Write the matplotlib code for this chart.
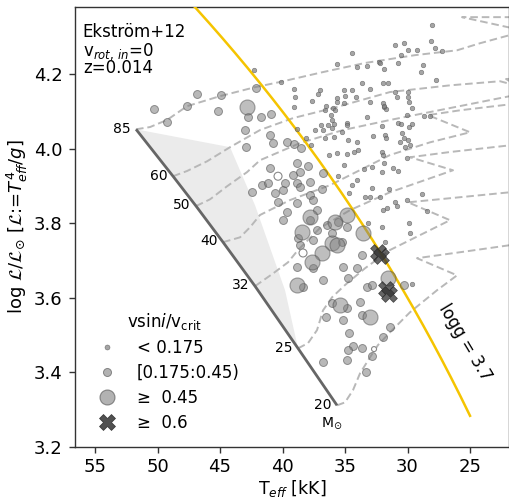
import numpy as np
import matplotlib
matplotlib.use("Agg")
import matplotlib.pyplot as plt
from matplotlib.lines import Line2D

# --- zero-age main sequence (Ekström+12, non-rotating, Z=0.014) ---
zams_mass = [85, 60, 50, 40, 32, 25, 20]
zams_teff = [51.72, 48.76, 46.92, 44.76, 42.20, 38.76, 35.64]
zams_logl = [4.052, 3.926, 3.846, 3.749, 3.631, 3.464, 3.311]

# --- evolutionary tracks (Teff in kK, log spectroscopic luminosity) ---
trk85_teff = [51.72, 50.60, 49.24, 47.64, 45.00, 42.20, 40.20, 36.84, 33.40, 29.40, 26.04, 24.20, 21.80, 20.60, 25.64, 20.20]
trk85_logl = [4.052, 4.058, 4.077, 4.114, 4.141, 4.165, 4.179, 4.205, 4.230, 4.251, 4.264, 4.283, 4.305, 4.316, 4.353, 4.353]

trk60_teff = [48.76, 47.64, 46.04, 44.20, 41.80, 39.16, 35.96, 31.40, 26.60, 22.60, 21.16, 22.12, 20.20]
trk60_logl = [3.926, 3.940, 3.966, 4.004, 4.050, 4.082, 4.109, 4.152, 4.170, 4.181, 4.168, 4.187, 4.189]

trk50_teff = [46.92, 45.80, 44.44, 42.84, 41.80, 38.60, 35.16, 31.40, 26.60, 21.80]
trk50_logl = [3.846, 3.864, 3.899, 3.937, 3.969, 4.015, 4.050, 4.077, 4.109, 4.141]

trk40_teff = [44.76, 43.40, 42.60, 41.80, 39.40, 36.20, 31.40, 28.20, 25.00, 28.36, 25.80, 21.80]
trk40_logl = [3.749, 3.762, 3.789, 3.822, 3.862, 3.902, 3.983, 4.017, 4.044, 4.090, 4.103, 4.119]

trk32_teff = [42.20, 40.84, 39.56, 38.76, 37.00, 34.60, 31.40, 26.36, 29.80, 26.60, 21.80]
trk32_logl = [3.631, 3.663, 3.695, 3.728, 3.787, 3.835, 3.883, 3.942, 3.977, 3.991, 4.009]

trk25_teff = [38.76, 37.96, 37.24, 36.76, 36.04, 35.00, 33.40, 31.40, 29.00, 26.60, 29.96, 26.60, 21.80]
trk25_logl = [3.464, 3.478, 3.513, 3.566, 3.601, 3.634, 3.679, 3.728, 3.768, 3.808, 3.856, 3.867, 3.883]

trk20_teff = [35.64, 35.00, 34.36, 33.80, 33.00, 32.36, 31.40, 29.80, 27.64, 26.04, 29.24, 25.80, 21.80]
trk20_logl = [3.311, 3.319, 3.352, 3.397, 3.440, 3.473, 3.507, 3.561, 3.620, 3.660, 3.706, 3.722, 3.741]

# --- shaded band next to the ZAMS ---
band_teff = [51.72, 44.20, 42.20, 39.80, 38.76]
band_logl = [4.052, 4.004, 3.848, 3.620, 3.464]

# --- iso-gravity line ---
LOGG = 3.7
LOG_SUN = 4 * np.log10(5777.0) - 4.438   # log(Teff_sun^4 / g_sun)
iso_teff = np.linspace(25.0, 50.0, 300)

# --- stars, grouped by vsini/vcrit ---
slow_teff = [28.04, 31.00, 30.28, 29.96, 29.24, 28.12, 27.80, 27.24, 30.52, 30.76, 32.28, 34.44, 35.64, 34.04,
             33.24, 31.88, 28.76, 28.92, 27.72, 31.56, 31.96, 33.64, 31.00, 29.96, 29.96, 29.64, 30.04, 29.64,
             29.88, 30.76, 30.52, 28.68, 28.20, 33.00, 35.08, 34.44, 39.08, 39.00, 39.08, 37.64, 37.00, 37.16,
             35.64, 35.64, 35.00, 35.08, 34.12, 33.00, 31.96, 31.88, 31.72, 30.84, 29.88, 33.24, 36.52, 35.96,
             36.60, 36.12, 36.04, 36.36, 34.84, 35.88, 36.92, 37.40, 36.76, 36.04, 35.88, 36.60, 35.24, 32.04,
             32.76, 31.80, 31.72, 30.44, 30.28, 29.96, 30.20, 30.60, 29.80, 30.04, 32.04, 31.96, 31.88, 32.04,
             31.16, 30.76, 32.84, 33.48, 33.96, 34.28, 34.84, 35.64, 36.28, 35.08, 35.56, 34.44, 34.04, 34.68,
             32.84, 33.00, 32.20, 31.48, 33.40, 31.00, 30.84, 30.04, 31.96, 31.64, 32.04, 33.16, 28.84, 28.44,
             29.88, 29.80, 31.80, 42.28, 38.84, 37.72, 38.12, 34.04, 34.76, 40.12, 29.64, 32.20, 35.80, 34.84,
             31.88]
slow_logl = [4.332, 4.278, 4.283, 4.264, 4.264, 4.289, 4.270, 4.262, 4.251, 4.230, 4.232, 4.256, 4.227, 4.219,
             4.221, 4.214, 4.224, 4.205, 4.184, 4.176, 4.176, 4.176, 4.152, 4.152, 4.138, 4.109, 4.090, 4.066,
             4.058, 4.068, 4.066, 4.087, 4.087, 4.160, 4.157, 4.157, 4.160, 4.138, 4.111, 4.128, 4.157, 4.146,
             4.136, 4.125, 4.141, 4.122, 4.138, 4.125, 4.122, 4.111, 4.106, 4.138, 4.125, 4.085, 4.114, 4.109,
             4.103, 4.090, 4.077, 4.063, 4.068, 4.066, 4.063, 4.050, 4.050, 4.055, 4.031, 4.028, 4.044, 4.060,
             4.034, 4.036, 4.028, 4.042, 4.028, 4.023, 4.004, 4.017, 4.009, 3.975, 3.991, 3.983, 3.961, 3.937,
             3.948, 3.940, 3.950, 3.945, 3.996, 3.991, 3.985, 3.988, 3.983, 3.956, 3.926, 3.902, 3.916, 3.881,
             3.894, 3.870, 3.870, 3.891, 3.870, 3.856, 3.846, 3.862, 3.835, 3.840, 3.789, 3.800, 3.878, 3.832,
             3.800, 3.773, 3.749, 4.211, 4.052, 4.009, 4.028, 4.017, 4.023, 4.179, 3.636, 4.230, 4.103, 4.063,
             4.114]

mid_teff = [50.28, 49.24, 47.64, 46.84, 44.92, 45.16, 42.76, 43.00, 42.92, 42.12, 42.44, 41.72, 40.92, 41.00,
            40.76, 39.64, 39.08, 38.52, 41.00, 39.16, 37.96, 38.84, 36.76, 36.84, 41.64, 41.16, 39.96, 39.80,
            40.60, 38.84, 38.60, 37.80, 37.56, 38.84, 40.36, 39.96, 37.80, 37.24, 38.76, 38.60, 37.56, 36.44,
            35.56, 34.84, 35.24, 38.84, 37.56, 35.16, 34.76, 34.04, 33.24, 38.60, 37.80, 39.64, 37.24, 36.04,
            38.36, 36.76, 33.64, 32.84, 36.04, 34.84, 33.80, 36.52, 35.16, 33.64, 31.40, 31.96, 34.68, 34.36,
            34.76, 33.64, 32.84, 36.76, 34.84, 33.32, 30.28]
mid_logl = [4.106, 4.071, 4.114, 4.146, 4.144, 4.101, 4.085, 4.050, 4.004, 4.162, 3.883, 4.085, 4.093, 4.036,
            4.015, 4.017, 4.012, 4.001, 3.948, 3.929, 3.953, 3.961, 3.934, 3.891, 3.902, 3.907, 3.889, 3.907,
            3.881, 3.907, 3.897, 3.875, 3.862, 3.854, 3.856, 3.808, 3.808, 3.835, 3.760, 3.741, 3.754, 3.795,
            3.803, 3.789, 3.749, 3.682, 3.679, 3.682, 3.652, 3.679, 3.628, 3.937, 3.910, 3.830, 3.781, 3.773,
            3.628, 3.647, 3.714, 3.634, 3.585, 3.572, 3.588, 3.548, 3.540, 3.553, 3.521, 3.494, 3.505, 3.470,
            3.459, 3.464, 3.443, 3.427, 3.432, 3.400, 3.634]

fast_teff = [42.84, 37.80, 38.44, 34.84, 35.80, 33.56, 36.04, 35.64, 36.84, 37.64, 38.84, 35.40, 33.00, 31.56]
fast_logl = [4.111, 3.816, 3.776, 3.822, 3.803, 3.773, 3.746, 3.741, 3.720, 3.695, 3.634, 3.580, 3.548, 3.652]

vfast_teff = [32.36, 32.12, 31.72, 31.48]
vfast_logl = [3.722, 3.711, 3.623, 3.609]

# stars without a vsini estimate (open symbols)
nov_teff = [40.36, 38.36, 32.68]
nov_logl = [3.926, 3.720, 3.462]
nov_size = [33, 33, 13]

leg_labels = ['< 0.175', '[0.175:0.45)', '\u2265  0.45', '\u2265  0.6']

# ------------------------------------------------------------------
plt.rcParams['font.family'] = ['DejaVu Sans']
plt.rcParams['mathtext.fontset'] = 'dejavusans'

fig = plt.figure(figsize=(5.10, 4.98), dpi=100)
ax = fig.add_axes([0.1471, 0.1030, 0.8510, 0.8835])

band_t = band_teff + zams_teff[-2:0:-1]
band_l = band_logl + zams_logl[-2:0:-1]
ax.fill(band_t, band_l, color='#ebebeb', lw=0, zorder=1)

tracks = [(trk85_teff, trk85_logl), (trk60_teff, trk60_logl), (trk50_teff, trk50_logl),
          (trk40_teff, trk40_logl), (trk32_teff, trk32_logl), (trk25_teff, trk25_logl),
          (trk20_teff, trk20_logl)]
for tt, ll in tracks:
    ax.plot(tt, ll, color='#b8b8b8', lw=1.4, ls=(0, (3.9, 2.0)), zorder=2)

ax.plot(zams_teff, zams_logl, color='#666666', lw=2.0, zorder=3, solid_capstyle='butt')

iso_logl = 4 * np.log10(iso_teff * 1e3) - LOGG - LOG_SUN
ax.plot(iso_teff, iso_logl, color='#f5c400', lw=1.8, zorder=3)

face = '#7f7f7f'
edge = '#4d4d4d'
ax.scatter(slow_teff, slow_logl, s=11, c=face, edgecolors=edge, linewidths=0.4, alpha=0.7, zorder=4)
ax.scatter(mid_teff, mid_logl, s=33, c=face, edgecolors=edge, linewidths=0.7, alpha=0.55, zorder=4)
ax.scatter(fast_teff, fast_logl, s=117, c=face, edgecolors=edge, linewidths=0.8, alpha=0.5, zorder=4)
ax.scatter(nov_teff, nov_logl, s=nov_size, c='white', edgecolors='#888888', linewidths=0.8, zorder=4)
ax.scatter(vfast_teff, vfast_logl, s=130, marker='X', c='#333333', edgecolors='#222222',
           linewidths=0.5, alpha=0.75, zorder=5)

# mass labels along the ZAMS
for m, t, l in zip(zams_mass, zams_teff, zams_logl):
    ax.annotate(str(m), (t, l), xytext=(-4, 0.5), textcoords='offset points',
                ha='right', va='center', fontsize=10, zorder=6)
ax.annotate(r'M$_{\odot}$', (zams_teff[-1], zams_logl[-1]), xytext=(-3.6, -13),
            textcoords='offset points', ha='center', va='center', fontsize=10, zorder=6)

ax.text(25.4, 3.481, 'logg = 3.7', rotation=-59, rotation_mode='anchor',
        ha='center', va='center', fontsize=12)

ax.text(0.018, 0.932, 'Ekstr\u00f6m+12', transform=ax.transAxes, fontsize=12, va='baseline')
ax.text(0.018, 0.889, r'v$_{rot,\, in}$=0', transform=ax.transAxes, fontsize=12, va='baseline')
ax.text(0.018, 0.8486, 'z=0.014', transform=ax.transAxes, fontsize=12, va='baseline')

handles = [
    Line2D([], [], ls='none', marker='o', ms=3.6, mfc=face, mec=edge, mew=0.4, alpha=0.7),
    Line2D([], [], ls='none', marker='o', ms=5.8, mfc=face, mec=edge, mew=0.7, alpha=0.6),
    Line2D([], [], ls='none', marker='o', ms=10.8, mfc=face, mec=edge, mew=0.8, alpha=0.6),
    Line2D([], [], ls='none', marker='X', ms=11.4, mfc='#333333', mec='#222222', mew=0.5, alpha=0.85),
]
leg = ax.legend(handles, leg_labels, title=r'vsin$i$/v$_{\rm crit}$', loc='upper left',
                bbox_to_anchor=(0.0, 0.342), frameon=False, fontsize=12, title_fontsize=12,
                labelspacing=0.42, handletextpad=0.8, borderpad=0.4)

ax.set_xlim(56.6, 21.88)
ax.set_ylim(3.2, 4.381)
ax.set_xticks([55, 50, 45, 40, 35, 30, 25])
ax.set_yticks([3.2, 3.4, 3.6, 3.8, 4.0, 4.2])
ax.set_yticklabels(['3.2', '3.4', '3.6', '3.8', '4.0', '4.2'])
ax.tick_params(axis='both', direction='out', length=4, width=1.0, labelsize=13, color='#333333')
ax.tick_params(axis='x', pad=4)
ax.tick_params(axis='y', pad=5)
for sp in ax.spines.values():
    sp.set_color('#333333')
    sp.set_linewidth(1.0)

ax.set_xlabel(r'T$_{eff}$ [kK]', fontsize=12.5)
ax.set_ylabel(r'log $\mathcal{L}/\mathcal{L}_{\odot}$ [$\mathcal{L}$:=$T_{eff}^{4}/g$]', fontsize=13)
ax.xaxis.set_label_coords(0.5, -0.071)
ax.yaxis.set_label_coords(-0.104, 0.5)

fig.savefig('out.png', dpi=100)
